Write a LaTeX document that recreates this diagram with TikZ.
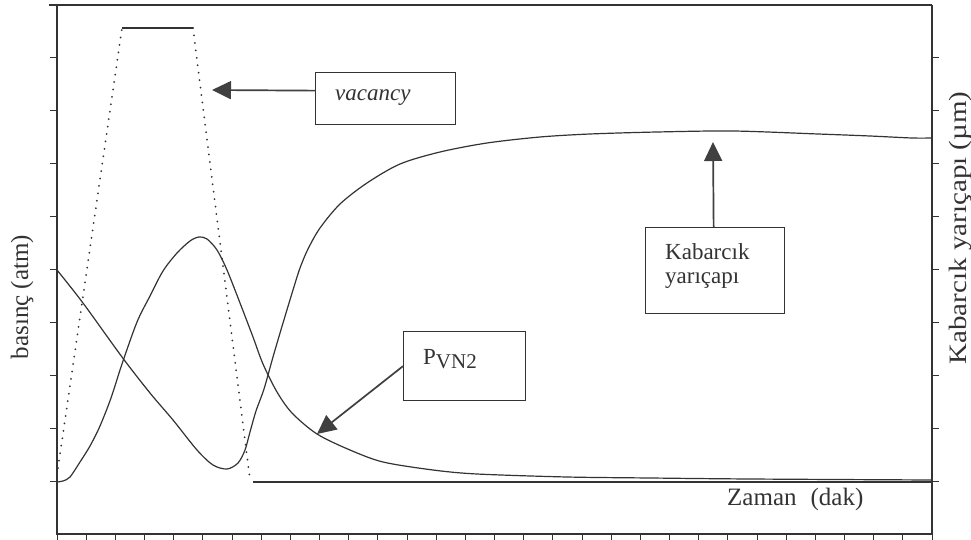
\documentclass[tikz,border=0pt]{standalone}
\usepackage{fontspec}
\setmainfont{Liberation Serif}
\usetikzlibrary{arrows.meta}
\definecolor{ink}{gray}{0.2}
\definecolor{arrowink}{gray}{0.25}
\begin{document}
\begin{tikzpicture}[x=1pt,y=-1pt,
  frame/.style={draw=ink, line width=1.4pt},
  tickmark/.style={draw=ink, line width=1pt},
  curve/.style={draw=ink, line width=1.2pt, line join=round},
  vacdot/.style={draw=ink, line width=2pt, line cap=round, dash pattern=on 0pt off 7.5pt},
  flat/.style={draw=ink, line width=1.3pt},
  box/.style={draw=ink, line width=1.3pt, fill=white, inner sep=0pt, anchor=north west},
  lbl/.style={inner sep=0pt, text=ink, font=\fontsize{23}{24}\selectfont},
  axlbl/.style={inner sep=0pt, text=ink, font=\fontsize{25}{26}\selectfont},
  pointer/.style={draw=arrowink, line width=1.7pt, -{Triangle[length=19pt,width=18pt]}},
]
\useasboundingbox (0,0) rectangle (971,540);
\fill[white] (0,0) rectangle (971,540);

% frame
\draw[frame] (49,5) -- (932,5);
\draw[frame] (57,5) -- (57,534) -- (932,534) -- (932,5);
\foreach \i in {0,...,30} \draw[tickmark] ({57+\i*29.1667},534) -- ++(0,6);
\foreach \i in {1,...,9} \draw[tickmark] (57,{5+\i*52.9}) -- ++(-7,0);
\foreach \i in {1,...,9} \draw[tickmark] (932,{5+\i*52.9}) -- ++(7,0);

% vacancy curve
\draw[vacdot] (58,468) -- (122,28);
\draw[flat] (122,28) -- (193,28);
\draw[vacdot] (193,28) -- (250,480);
\draw[flat] (253,482) -- (932,482);

% bubble radius curve
\draw[curve] plot[smooth, tension=0.5] coordinates {
 (57,270) (83,303) (122,357) (150,393) (173,420) (197,450) (213,465) (227,469)
 (238,463) (245,450) (250,432) (256,411) (264,389) (273,357) (283,323) (293,290)
 (300,268) (308,249) (320,228) (340,204) (367,183) (400,164) (440,152) (487,143)
 (540,137) (590,134) (657,132) (733,131) (818,134) (870,136) (912,138) (932,138)};

% PVN2 curve
\draw[curve] plot[smooth, tension=0.5] coordinates {
 (57,482) (63,481) (70,477) (80,462) (90,446) (100,426) (111,398) (122,364)
 (137,322) (150,296) (163,271) (177,253) (190,241) (199,237) (207,239) (217,250)
 (227,270) (240,303) (253,337) (263,364) (277,392) (292,413) (317,434) (350,450)
 (383,462) (433,470) (477,474) (567,477) (650,478) (750,479) (932,480)};

% boxes and labels
\node[box, minimum width=140pt, minimum height=52pt] (vac) at (315,72) {};
\node[lbl, anchor=base west] (vactxt) at (335,101) {\itshape vacancy};

\node[box, minimum width=139pt, minimum height=86pt] (kab) at (645,227) {};
\node[lbl, anchor=base west] (kabtxt1) at (665,259) {Kabarcık};
\node[lbl, anchor=base west] (kabtxt2) at (665,283) {yarıçapı};

\node[box, minimum width=122pt, minimum height=69pt] (pvn) at (403,331) {};
\node[lbl, anchor=base west] (pvntxt) at (423,364) {P\raisebox{-4pt}{\fontsize{21}{21}\selectfont VN2}};

% pointer arrows
\coordinate (vactip) at (212,90);
\coordinate (kabtip) at (713,142);
\coordinate (pvntip) at (317,434);
\draw[pointer] ([yshift=8pt]vac.west) -- (vactip);
\draw[pointer] ([xshift=-1.5pt]kab.north) -- (kabtip);
\draw[pointer] (pvn.west) -- (pvntip);

% axis labels
\node[axlbl, rotate=90] (ylab) at (22,297) {basınç (atm)};
\node[axlbl, rotate=90] (y2lab) at (961,228) {\scalebox{1.16}[1]{Kabarcık yarıçapı (µm)}};
\node[axlbl, anchor=base west] (xlab) at (727,505) {Zaman\hspace{14pt}(dak)};
\end{tikzpicture}
\end{document}
